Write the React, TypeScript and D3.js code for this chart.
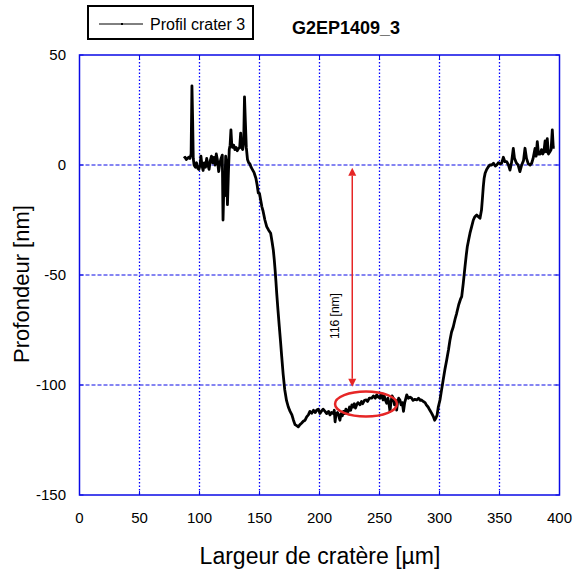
import React from "react";
import * as d3 from "d3";

const profileX: number[] = [
  87, 88, 89, 90, 91, 92, 93, 93.7, 94.3, 94.8, 95.5, 96.5, 97.5, 98.5, 99.5, 100.5, 101.2, 102, 103, 104, 105, 106, 107, 108, 109, 110, 111, 112, 113, 114, 115, 116, 117, 118, 119, 119.6, 120.3, 121, 121.8, 122.5, 123.3, 124, 124.8, 125.5, 126.2, 126.8, 127.5, 128.5, 129.5, 130.5, 131.5, 132.5, 133.5, 134.3, 135, 136, 136.8, 137.5, 138.2, 139, 140, 141, 142,
  143, 144, 145.5, 147, 148, 149, 150, 151, 152, 153, 154.5, 156, 157.5, 159.3, 160.5, 161.5, 162.3, 163, 163.7, 164.3, 165.4, 166.5, 167.5, 168.5, 169.7, 171, 172.5, 174, 175.5, 177, 178.3, 179.6, 181, 182.3, 183.7, 185, 186.5, 188, 189.3, 190.7, 192, 193.5, 195, 196.5, 197.7, 199, 200.4, 201.5, 203, 204.6, 206, 207.5, 208.75, 210, 211.5, 212.3, 213, 213.8, 215, 216, 217, 218, 219, 220, 221, 222, 223, 224, 225, 226, 227, 228, 229, 230, 231, 232, 233.75, 235, 236, 237.5, 239, 240, 241.5, 243.5, 245, 246.5, 247.7, 249, 250.4, 251.5, 253, 254, 255, 256, 257, 258, 258.75, 259.5, 260.5, 261.5, 262.5, 263.5, 264.3, 265, 266, 267, 268, 269, 270, 271, 272, 272.7, 274, 275.5, 276.8, 278, 279.5, 281, 282.5, 284, 285, 286.5, 288, 289, 290.5, 292, 293.5, 295, 296, 297, 298, 299, 300.4, 301.5, 303, 304.5, 306, 307.5, 308.75, 310, 311.5, 313, 314.3, 316, 317.5, 318.5, 319.8, 321.25, 322.3, 323.2, 324.3, 325.4, 326.8, 328.2, 329.5, 331, 332.4, 333.75, 335, 335.8, 336.5, 337.2, 338, 339.3, 340.7, 342, 343.5, 345, 346.5, 347.7, 349, 350.5, 351.8, 353.2, 354.5, 356, 357.5, 358.75, 360, 361.5, 362.5, 364, 365.5, 367, 368.5, 370, 371.25, 372.5, 374, 375.5, 376.8, 378, 379.6, 380.5, 381.5, 382.5, 384, 385, 386, 387, 388, 389, 389.8, 390.8, 392, 393, 394, 394.8, 396,
];

const profileY: number[] = [
  3, 3.5, 2.5, 3, 3.5, 3, 5, 36, 20, 3, 0, -1, 1, -1.5, -2, 0, 4, 0, -2.5, 1, -1, 3, 0, -2, 2, 4, 1, 3.5, 0, 5, 2, -3, 1, 3, 4.5, -25, -10, -14, 4, 1, -18, -5, 7, 9, 16, 10, 8, 9, 7, 8, 6.5, 7.5, 8, 14.5, 8, 7, 10, 31, 20, 8, 2.5, 1, 0.5,
  -1, -2, -3.5, -6, -9, -12.7, -13, -16, -19, -21, -25, -28, -29.5, -31, -35, -38.6, -43, -47.7, -53, -58, -66, -73.5, -80, -87, -95, -102, -107, -110, -112, -113.6, -116, -118, -118.5, -119, -118, -117.4, -116.5, -116, -114.5, -113.6, -112, -112.8, -111.5, -112.5, -111.4, -111, -112.9, -112, -111, -112, -113, -112, -113.6, -112.5, -113, -111.5, -116.7, -113, -112.5, -114, -116, -113, -114, -112, -113, -111, -112.5, -112, -110, -111.5, -109, -110, -108.5, -110.5, -109, -108, -109, -107.5, -108.5, -107, -106.8, -107.5, -106, -106, -105, -106, -104.5, -105.5, -106, -104, -106.8, -105, -107, -108.3, -106, -109, -112, -108, -105, -106, -109, -107, -111.4, -108, -106, -106.8, -109, -108, -112, -108, -106, -104.5, -106, -105.5, -106, -107, -106.5, -106.8, -106, -107, -106.8, -107.5, -108, -109, -110, -111.5, -112.9, -114.5, -116, -115, -113.6, -110, -106.8, -103, -98, -93, -88.6, -84, -79.5, -76, -73.5, -70, -67.4, -63.5, -61, -59.8, -53.8, -46.2, -41, -37, -34, -31, -28, -25, -23.5, -22.7, -23.5, -24.2, -20.5, -15, -9.8, -6, -3.8, -2, -0.8, 0, 0, 0.8, -0.5, 0, 1, 0.5, 0.8, 3.5, 1.5, 1.5, 0, -2.3, 1, 7.5, 3, 1, 0, -3, 0, 2, 7.6, 3, 0.5, 0, 0.8, 3, 7.5, 4, 10.6, 5, 5, 7, 5, 6, 11, 6, 12, 5, 6, 7, 16, 8, 8,
];

const xTicks: number[] = [0, 50, 100, 150, 200, 250, 300, 350, 400];
const yTicks: number[] = [50, 0, -50, -100, -150];

const arrowX = 227.3;
const arrowTop = -1.2;
const arrowBottom = -100.8;
const ellipseCenter: [number, number] = [238.75, -108.6];
const ellipseRadii: [number, number] = [25.8, 5.7];

const FONT = "Arial, 'Liberation Sans', Helvetica, sans-serif";
const BLUE = "#0a0ae6";
const RED = "#e62626";

export default function App() {
  const left = 79.5, right = 559.5, top = 55, bottom = 495;
  const x = d3.scaleLinear().domain([0, 400]).range([left, right]);
  const y = d3.scaleLinear().domain([-150, 50]).range([bottom, top]);

  const pts: [number, number][] = profileX.map((v, i) => [v, profileY[i]]);
  const line = d3.line<[number, number]>().x((d) => x(d[0])).y((d) => y(d[1]));

  const ax = x(arrowX);
  const aTop = y(arrowTop);
  const aBot = y(arrowBottom);
  const head = 8, hw = 4;

  return (
    <svg width={573} height={573} style={{ position: "absolute", left: 0, top: 0, background: "#fff" }}>
      {/* grid */}
      {xTicks.slice(1, -1).map((t) => (
        <line key={"gx" + t} x1={x(t)} x2={x(t)} y1={top} y2={bottom} stroke="#0000ff" strokeWidth={1.3} strokeDasharray="1.5,2" />
      ))}
      {yTicks.slice(1, -1).map((t) => (
        <line key={"gy" + t} x1={left} x2={right} y1={y(t)} y2={y(t)} stroke={BLUE} strokeWidth={1} strokeDasharray="4,2" />
      ))}
      {/* ticks */}
      {xTicks.map((t) => (
        <g key={"tx" + t}>
          <line x1={x(t)} x2={x(t)} y1={bottom} y2={bottom - 4} stroke={BLUE} />
          <line x1={x(t)} x2={x(t)} y1={top} y2={top + 4} stroke={BLUE} />
          <text x={x(t)} y={523} textAnchor="middle" fontFamily={FONT} fontSize={15} fill="#000">{t}</text>
        </g>
      ))}
      {yTicks.map((t) => (
        <g key={"ty" + t}>
          <line x1={left} x2={left + 4} y1={y(t)} y2={y(t)} stroke={BLUE} />
          <line x1={right} x2={right - 4} y1={y(t)} y2={y(t)} stroke={BLUE} />
          <text x={66} y={y(t) + 5} textAnchor="end" fontFamily={FONT} fontSize={15} fill="#000">{t}</text>
        </g>
      ))}
      <rect x={left} y={top} width={right - left} height={bottom - top} fill="none" stroke={BLUE} strokeWidth={1.5} />

      {/* profile */}
      <path d={line(pts) || ""} fill="none" stroke="#000" strokeWidth={2.8} strokeLinejoin="round" />

      {/* annotation */}
      <line x1={ax} x2={ax} y1={aTop + head} y2={aBot - head} stroke={RED} strokeWidth={1.5} />
      <path d={`M${ax},${aTop} L${ax - hw},${aTop + head} L${ax + hw},${aTop + head} Z`} fill={RED} />
      <path d={`M${ax},${aBot} L${ax - hw},${aBot - head} L${ax + hw},${aBot - head} Z`} fill={RED} />
      <text transform={`translate(339,316) rotate(-90)`} textAnchor="middle" fontFamily={FONT} fontSize={12} fill="#000">116 [nm]</text>
      <ellipse cx={x(ellipseCenter[0])} cy={y(ellipseCenter[1])} rx={x(ellipseRadii[0]) - x(0)} ry={y(0) - y(ellipseRadii[1])} fill="none" stroke={RED} strokeWidth={2.5} />

      {/* legend */}
      <rect x={88} y={6} width={165} height={33} fill="#fff" stroke="#000" strokeWidth={2} />
      <line x1={99} x2={143} y1={24} y2={24} stroke="#000" strokeWidth={1} />
      <rect x={121} y={23} width={2} height={2} fill="#000" />
      <text x={150} y={30} fontFamily={FONT} fontSize={16} fill="#000">Profil crater 3</text>
      <text x={292} y={34} fontFamily={FONT} fontSize={18} fontWeight="bold" fill="#000">G2EP1409_3</text>

      {/* axis titles */}
      <text x={320} y={564} textAnchor="middle" fontFamily={FONT} fontSize={23} fill="#000">Largeur de cratère [µm]</text>
      <text transform={`translate(29,284) rotate(-90)`} textAnchor="middle" fontFamily={FONT} fontSize={22} fill="#000">Profondeur [nm]</text>
    </svg>
  );
}
